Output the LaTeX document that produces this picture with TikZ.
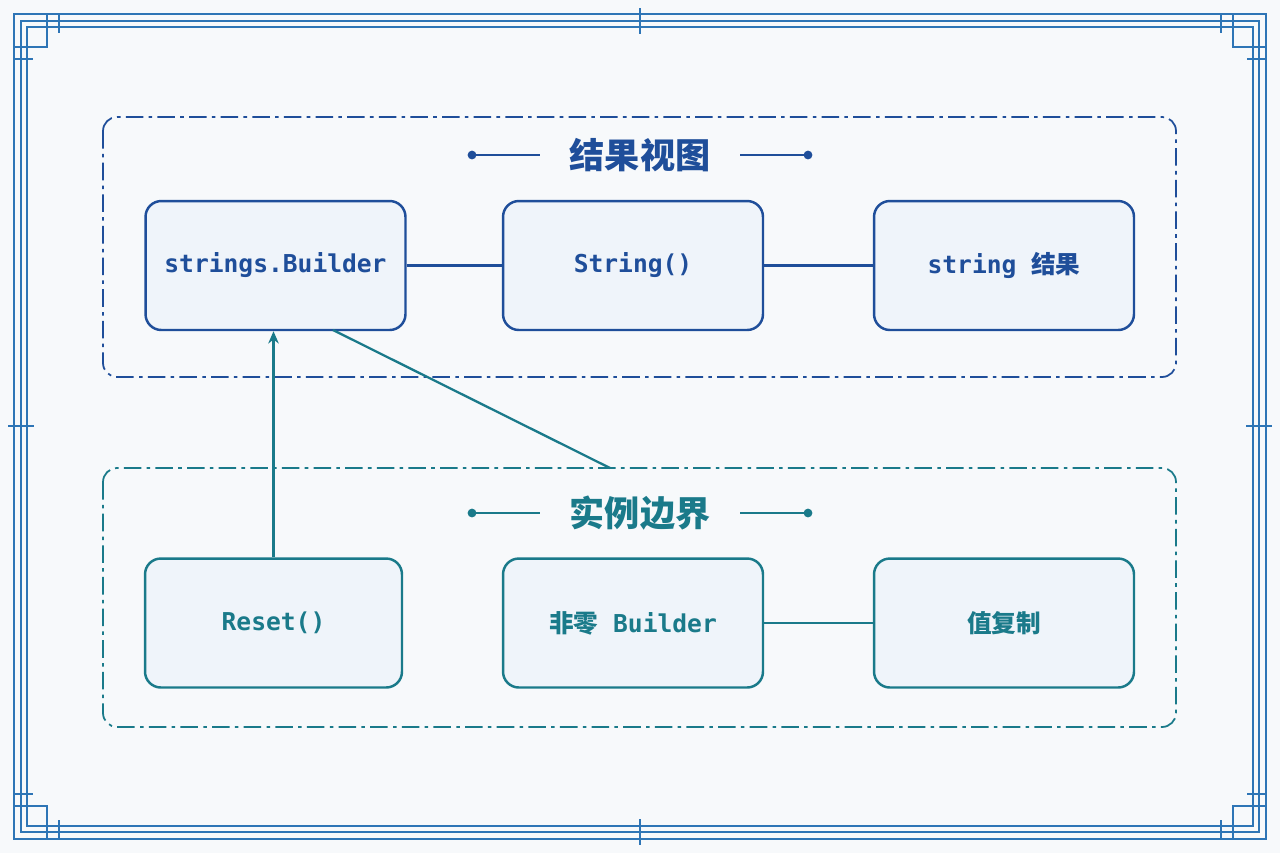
\documentclass[tikz,border=0pt]{standalone}
\usepackage{fontspec}
\setmonofont{DejaVu Sans Mono}
\newfontfamily\cjk{Noto Sans CJK SC}
\usetikzlibrary{arrows.meta}
\definecolor{bg}{HTML}{F7F9FB}
\definecolor{cblue}{HTML}{1F4E9A}
\definecolor{cteal}{HTML}{1A7A8A}
\definecolor{frame}{HTML}{2E75B6}
\definecolor{boxfill}{HTML}{EFF4FA}
\begin{document}
\begin{tikzpicture}[x=0.02cm,y=-0.02cm,
 box/.style={draw=#1,line width=1.4pt,rounded corners=9pt,fill=boxfill,minimum width=5.2cm,minimum height=2.58cm,text=#1,font=\ttfamily\bfseries\fontsize{14}{17}\selectfont},
 grp/.style={draw=#1,line width=1pt,dash pattern=on 10pt off 3pt on 2pt off 3pt,rounded corners=8pt},
 ttl/.style={text=#1,font=\cjk\bfseries\fontsize{20}{22}\selectfont},
 link/.style={draw=#1,line width=1.3pt}]
\fill[bg] (0,0) rectangle (1280,853);
\useasboundingbox (0,0) rectangle (1280,853);
% frame
\begin{scope}[draw=frame,line width=1pt]
\draw (14,14) rectangle (1266,839);
\draw (21,21) rectangle (1259,832);
\draw (27,27) rectangle (1253,826);
\foreach \cx/\cy/\sx/\sy in {0/0/1/1,1280/0/-1/1,0/853/1/-1,1280/853/-1/-1}{
 \begin{scope}[shift={(\cx,\cy)},xscale=\sx,yscale=\sy]
 \draw (47,14) -- (47,47) -- (14,47);
 \draw (59,14) -- (59,33) (14,59) -- (33,59);
 \end{scope}}
\draw (640,8) -- (640,34) (640,819) -- (640,845) (8,426) -- (34,426) (1246,426) -- (1272,426);
\end{scope}
% groups
\draw[grp=cblue] (103,117) rectangle (1176,377);
\draw[grp=cteal] (103,468) rectangle (1176,727);
\node[ttl=cblue] (t1) at (640,155) {结果视图};
\node[ttl=cteal] (t2) at (640,513) {实例边界};
\foreach \y/\c in {155/cblue,513/cteal}{
 \draw[\c,line width=1pt] (472,\y) -- (540,\y) (740,\y) -- (808,\y);
 \fill[\c] (472,\y) circle (2.5pt) (808,\y) circle (2.5pt);}
% boxes
\node[box=cblue] (sb) at (275.5,265.5) {strings.Builder};
\node[box=cblue] (st) at (633,265.5) {String()};
\node[box=cblue] (sr) at (1004,265.5) {string {\cjk\bfseries 结果}};
\node[box=cteal,minimum width=5.14cm] (rs) at (273.5,623) {Reset()};
\node[box=cteal] (nz) at (633,623) {{\cjk\bfseries 非零} Builder};
\node[box=cteal] (vc) at (1004,623) {{\cjk\bfseries 值复制}};
% links
\draw[link=cblue] (sb) -- (st);
\draw[link=cblue] (st) -- (sr);
\draw[link=cteal] (nz) -- (vc);
\draw[link=cteal,-{Stealth[length=7pt,width=6pt]}] (rs.north) -- (rs.north |- sb.south);
\coordinate (gt) at (610,468);
\draw[link=cteal] (333,330) -- (gt);
\end{tikzpicture}
\end{document}
